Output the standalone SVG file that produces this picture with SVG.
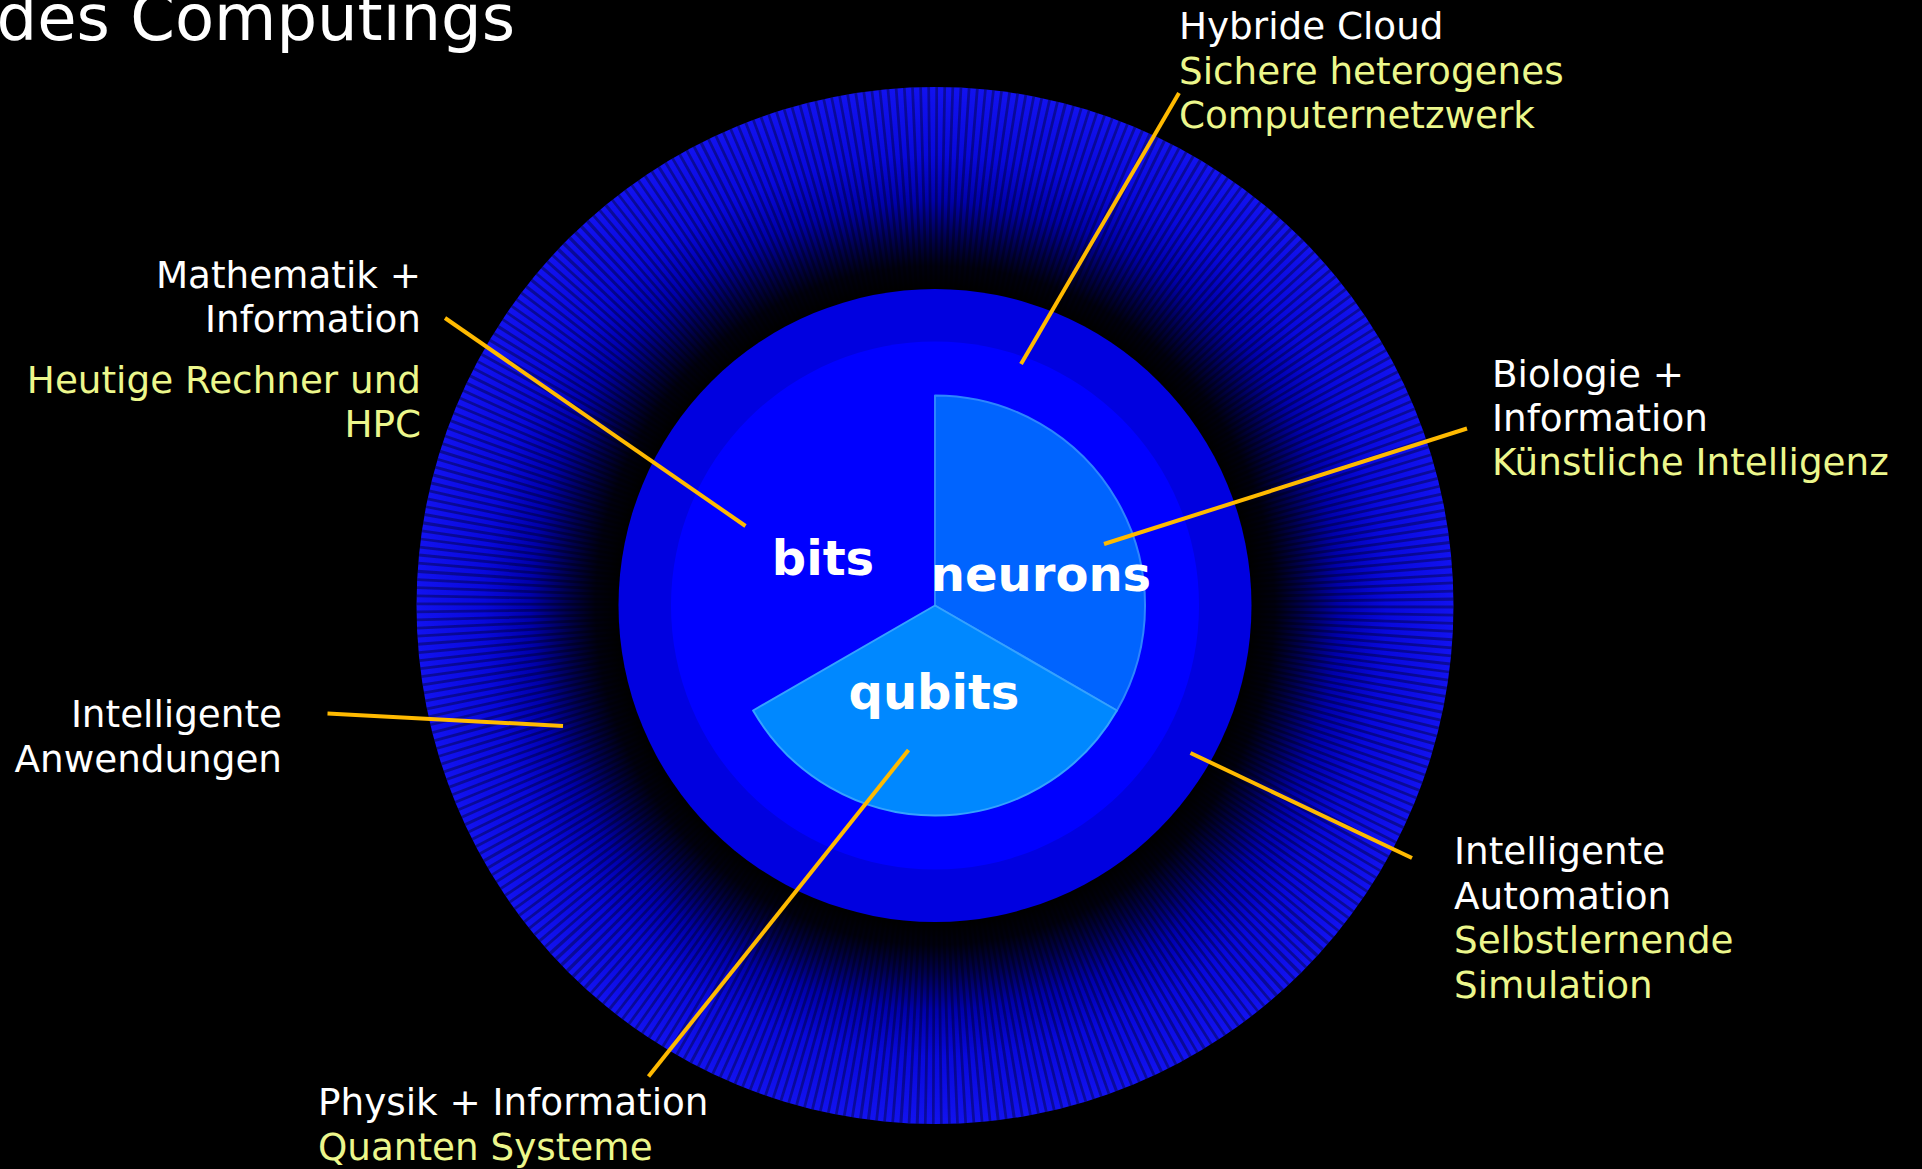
<svg xmlns="http://www.w3.org/2000/svg" width="1922" height="1169" viewBox="0 0 1922 1169">
  <style>
    .lbl { font-family: "DejaVu Sans", Verdana, sans-serif; font-size: 37.3px; fill: #ffffff; }
    .sub { fill: #ecf78c; }
    .end { text-anchor: end; }
    .core { font-family: "DejaVu Sans", Verdana, sans-serif; font-size: 48px; font-weight: bold; fill: #ffffff; text-anchor: middle; }
    .conn { stroke: #ffba00; stroke-width: 4; fill: none; }
  </style>
  <defs>
    <radialGradient id="haloFill" gradientUnits="userSpaceOnUse" cx="935" cy="605.5" r="518.5">
      <stop offset="0.61" stop-color="#000000"/>
      <stop offset="0.655" stop-color="#000010"/>
      <stop offset="0.71" stop-color="#000050"/>
      <stop offset="0.78" stop-color="#0000aa"/>
      <stop offset="0.87" stop-color="#0808dc"/>
      <stop offset="1" stop-color="#1212f0"/>
    </radialGradient>
  </defs>

  <rect x="0" y="0" width="1922" height="1169" fill="#000000"/>

  <!-- title (first line lies above the canvas) -->
  <g id="title">
    <text x="-3.5" y="39.5" font-family="DejaVu Sans, Verdana, sans-serif" font-size="64" fill="#ffffff">des Computings</text>
  </g>

  <!-- concentric rings -->
  <g id="halo">
    <circle cx="935" cy="605.5" r="518.5" fill="url(#haloFill)"/>
    <!-- radial stripes: dashed stroke whose dash ends are radial -->
    <circle cx="935" cy="605.5" r="417.5" fill="none" stroke="#000000" stroke-opacity="0.35" stroke-width="202" pathLength="400" stroke-dasharray="0.42 0.58"/>
  </g>
  <g id="ring-middle">
    <circle cx="935" cy="605.5" r="316.5" fill="#0000e0"/>
  </g>
  <g id="ring-inner">
    <circle cx="935" cy="605.5" r="264" fill="#0000ff"/>
  </g>

  <!-- segments -->
  <g id="node-bits">
    <text class="core" x="823" y="575">bits</text>
  </g>
  <g id="node-neurons">
    <path d="M935,605.5 L935,395.5 A210,210 0 0 1 1116.9,710.5 Z" fill="#0064ff" stroke="#2d85ff" stroke-width="2" stroke-linejoin="round"/>
  </g>
  <g id="node-qubits">
    <path d="M935,605.5 L1116.9,710.5 A210,210 0 0 1 753.1,710.5 Z" fill="#0088ff" stroke="#35a2ff" stroke-width="2" stroke-linejoin="round"/>
  </g>
  <text class="core" x="1041" y="591">neurons</text>
  <text class="core" x="934" y="709">qubits</text>

  <!-- leader lines -->
  <g id="connectors">
    <line class="conn" x1="445" y1="318" x2="745.5" y2="526"/>
    <line class="conn" x1="1179" y1="93" x2="1021" y2="364"/>
    <line class="conn" x1="1467" y1="428.5" x2="1104" y2="544"/>
    <line class="conn" x1="327.5" y1="713.5" x2="563" y2="726"/>
    <line class="conn" x1="648.5" y1="1076.5" x2="908.5" y2="750"/>
    <line class="conn" x1="1190.5" y1="753" x2="1412" y2="858"/>
  </g>

  <!-- annotations -->
  <g id="label-math">
    <text class="lbl end" x="421" y="287.5">Mathematik +</text>
    <text class="lbl end" x="421" y="332">Information</text>
    <text class="lbl sub end" x="421" y="392.5">Heutige Rechner und</text>
    <text class="lbl sub end" x="421" y="437">HPC</text>
  </g>
  <g id="label-cloud">
    <text class="lbl" x="1179" y="39">Hybride Cloud</text>
    <text class="lbl sub" x="1179" y="83.5">Sichere heterogenes</text>
    <text class="lbl sub" x="1179" y="128">Computernetzwerk</text>
  </g>
  <g id="label-bio">
    <text class="lbl" x="1492" y="387">Biologie +</text>
    <text class="lbl" x="1492" y="431">Information</text>
    <text class="lbl sub" x="1492" y="475">Künstliche Intelligenz</text>
  </g>
  <g id="label-apps">
    <text class="lbl end" x="282" y="727">Intelligente</text>
    <text class="lbl end" x="282" y="771.5">Anwendungen</text>
  </g>
  <g id="label-physics">
    <text class="lbl" x="318" y="1115">Physik + Information</text>
    <text class="lbl sub" x="318" y="1160">Quanten Systeme</text>
  </g>
  <g id="label-automation">
    <text class="lbl" x="1454" y="864">Intelligente</text>
    <text class="lbl" x="1454" y="908.5">Automation</text>
    <text class="lbl sub" x="1454" y="953">Selbstlernende</text>
    <text class="lbl sub" x="1454" y="997.5">Simulation</text>
  </g>
</svg>
